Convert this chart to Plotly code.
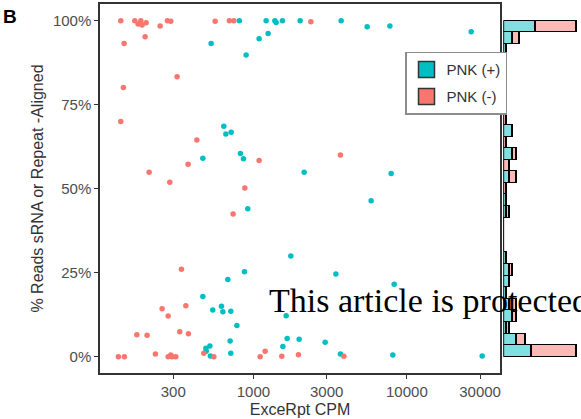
import numpy as np
import plotly.graph_objects as go

# ExceRpt CPM and % of reads aligned to sRNA or repeats, per library
pnk_pos_cpm = [810, 1210, 1379, 1406, 1545, 2016, 3730, 5510, 7750, 26260,
               530, 1089, 1247, 896, 641, 661, 716, 468, 823, 861,
               2140, 7900, 919, 5850, 1753, 874, 681, 3445, 8265, 468,
               543, 619, 632, 712, 1634, 780, 705, 1659, 1986, 2934,
               1555, 520, 490, 524, 712, 3690, 8100, 30960, 492]
pnk_pos_pct = [100, 100, 100, 99.5, 100, 100, 100, 98.2, 98.4, 96.7,
               93.2, 94.6, 96.2, 89.8, 68.6, 66.3, 66.8, 59.1, 60.5, 58.9,
               54.9, 54.5, 44.0, 46.4, 30.0, 25.3, 23.0, 24.6, 21.6, 17.9,
               13.9, 15.0, 13.4, 13.5, 12.2, 9.3, 4.7, 5.4, 5.2, 4.3,
               3.0, 3.2, 2.5, 0.2, 1.0, 0.8, 0.5, 0.2, 1.6]

pnk_neg_cpm = [136.6, 168.6, 177.1, 184.5, 188.1, 199.8, 196.8, 246.5, 275, 289.3,
               143.6, 563, 697, 745, 2367, 318, 142, 136.6, 428, 375,
               209, 285, 879, 1089, 3690, 737, 339.5, 254, 362.5, 278,
               173.8, 202.8, 331, 377, 131.8, 144.2, 229.7, 278, 289.3, 312,
               475, 552, 1106, 1192, 1531, 1965, 3884, 295]
pnk_neg_pct = [100, 100, 99.0, 100, 98.7, 99.4, 95.2, 98.4, 100, 99.8,
               93.2, 99.8, 100, 100, 99.7, 83.3, 80.1, 70.0, 64.5, 57.3,
               54.9, 51.9, 50.2, 58.4, 60.0, 42.5, 26.0, 14.3, 15.2, 12.1,
               6.5, 6.4, 7.4, 6.8, 0, 0, 0.8, 0, 0.5, 0,
               1.0, 0, 0, 1.6, 0.1, 0.6, 0.1, 0]

group_names = ["PNK (+)", "PNK (-)"]
group_colors = ["#00BFC4", "#F8766D"]
group_fills = ["#7FDFE1", "#FBBAB6"]

x_tick_values = [300, 1000, 3000, 10000, 30000]
y_tick_values = [0, 25, 50, 75, 100]
y_tick_labels = ["0%", "25%", "50%", "75%", "100%"]

# 29 equal-width bins spanning 0-100 % for the marginal histogram
bin_edges = np.linspace(0, 100, 30)
bin_centers = (bin_edges[:-1] + bin_edges[1:]) / 2
bin_width = bin_edges[1] - bin_edges[0]

W, H = 581, 419
FONT = "Liberation Sans, Arial, sans-serif"

fig = go.Figure()

groups = [(pnk_pos_cpm, pnk_pos_pct), (pnk_neg_cpm, pnk_neg_pct)]

# scatter of all libraries
for (cpm, pct), name, col in zip(groups, group_names, group_colors):
    fig.add_trace(go.Scatter(
        x=cpm, y=pct, mode="markers", name=name, showlegend=False,
        marker=dict(size=5.5, color=col, line=dict(width=0)),
        xaxis="x", yaxis="y",
    ))

# stacked marginal histogram on the right
for (cpm, pct), name, fill in zip(groups, group_names, group_fills):
    counts, _ = np.histogram(pct, bins=bin_edges)
    fig.add_trace(go.Bar(
        x=counts, y=bin_centers, width=bin_width, orientation="h",
        name=name, showlegend=False,
        marker=dict(color=fill, line=dict(color="#000000", width=1.3)),
        xaxis="x2", yaxis="y",
    ))

# legend entries with square keys
for i, (name, col) in enumerate(zip(group_names, group_colors)):
    fig.add_trace(go.Scatter(
        x=[None], y=[None], mode="markers", name=name, legendgroup=f"g{i}",
        marker=dict(symbol="square", size=16, color=col,
                    line=dict(color="#333333", width=1.5)),
        xaxis="x", yaxis="y",
    ))

fig.update_layout(
    width=W, height=H,
    margin=dict(l=0, r=0, t=0, b=0),
    paper_bgcolor="white", plot_bgcolor="white",
    font=dict(family=FONT, color="#4D4D4D"),
    barmode="stack", bargap=0,
    xaxis=dict(
        domain=[100 / W, 500 / W], type="log", range=[2.0, 4.607],
        tickvals=x_tick_values, ticktext=[str(v) for v in x_tick_values],
        showgrid=False, zeroline=False,
        showline=True, mirror=True, linecolor="#333333", linewidth=1.5,
        ticks="outside", ticklen=4, tickwidth=1.1, tickcolor="#333333",
        tickfont=dict(size=15, color="#4D4D4D"),
        title=dict(text="ExceRpt CPM", font=dict(size=16, color="#333333"), standoff=5),
        anchor="y",
    ),
    yaxis=dict(
        domain=[1 - 373 / H, 1 - 4 / H], range=[-4.85, 104.97],
        tickvals=y_tick_values, ticktext=y_tick_labels,
        showgrid=False, zeroline=False,
        showline=True, mirror=True, linecolor="#333333", linewidth=1.5,
        ticks="outside", ticklen=4, tickwidth=1.1, tickcolor="#333333",
        tickfont=dict(size=15, color="#4D4D4D"),
        title=dict(text="% Reads sRNA or Repeat -Aligned",
                   font=dict(size=16, color="#333333"), standoff=5),
        anchor="x",
    ),
    xaxis2=dict(
        domain=[503.5 / W, 1.0], range=[0, 24.5], anchor="y",
        visible=False, showgrid=False, zeroline=False,
    ),
    legend=dict(
        x=405 / W, y=1 - 51.7 / H, xanchor="left", yanchor="top",
        bgcolor="white", bordercolor="#8C8C8C", borderwidth=1.5,
        font=dict(size=15, color="#333333"),
        tracegroupgap=4.5, traceorder="grouped",
    ),
    shapes=[
        dict(type="line", xref="x2", yref="y", x0=0, x1=0, y0=0, y1=100,
             line=dict(color="#000000", width=1.3)),
    ],
    annotations=[
        dict(text="<b>B</b>", x=0.002, y=1 - 17 / H, xref="paper", yref="paper",
             xanchor="left", yanchor="middle", showarrow=False,
             font=dict(size=19, color="#000000", family=FONT)),
        dict(text="This article is protected by copyright. All rights reserved.",
             x=267 / W, y=1 - 300.5 / H, xref="paper", yref="paper",
             xanchor="left", yanchor="middle", showarrow=False,
             font=dict(size=34, color="#000000",
                       family="Liberation Serif, Times New Roman, serif")),
    ],
)

fig.write_html("out.html")
